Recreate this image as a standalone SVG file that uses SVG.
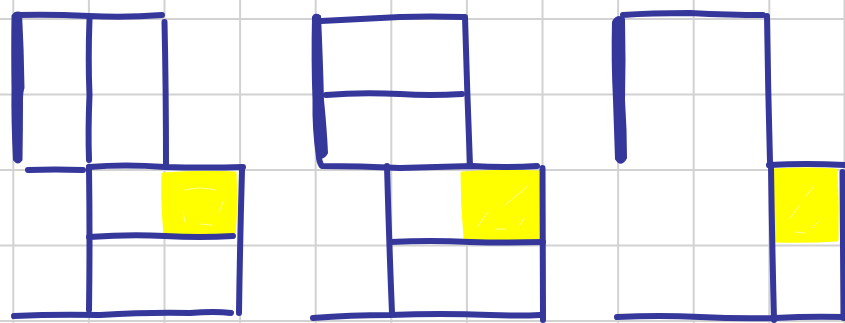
<svg xmlns="http://www.w3.org/2000/svg" width="845" height="323" viewBox="0 0 845 323">
<style>
.g{stroke:#d2d2d2;stroke-width:2;fill:none}
.l{stroke:#35379b;stroke-width:6;stroke-linecap:round;stroke-linejoin:round;fill:none}
.t{fill:#35379b;stroke:#35379b;stroke-width:2;stroke-linejoin:round}
.y{fill:#ffff00;stroke:#ffff00;stroke-width:3;stroke-linejoin:round}
.w{stroke:#ffffff;stroke-width:1;stroke-linecap:round;fill:none;opacity:0.6}
</style>
<rect width="845" height="323" fill="#ffffff"/>
<g id="grid">
<path class="g" d="M13.3 0V323M88.9 0V323M164.5 0V323M240.1 0V323M315.7 0V323M391.3 0V323M466.9 0V323M542.5 0V323M618.1 0V323M693.7 0V323M769.3 0V323M844.5 0V323"/>
<path class="g" d="M0 19H845M0 94.5H845M0 170H845M0 245.5H845M0 321H845"/>
</g>
<g id="panel1">
<path class="y" d="M163 174Q200 171 235 173Q237 205 234 234Q200 236 165 234Q162 205 163 174Z"/>
<path class="w" d="M185 190Q200 186 215 190M183 212L185 222M200 224L212 225M224 200L219 212"/>
<path class="t" d="M12.5 16Q15 11 21 13Q23 50 23.5 88Q22 92 22 100Q22 130 21.5 160Q18 165 14 160Q12 120 12.5 88Q12 50 12.5 16Z"/>
<path class="l" d="M17 15Q50 14 89 16Q125 18 162 15"/>
<path class="l" d="M89.5 19Q88 60 89.5 95Q88 130 89 160"/>
<path class="l" d="M164.5 22Q166 90 166 165"/>
<path class="l" d="M28 170Q55 169 83 170"/>
<path class="l" d="M89 167Q125 164 165 167Q205 168 243 167"/>
<path class="l" d="M89 167Q90 240 89 310"/>
<path class="l" d="M242 170Q240 240 239 313"/>
<path class="l" d="M89 237Q130 234 165 236Q200 238 233 236"/>
<path class="l" d="M14 316Q55 314 100 315Q150 312 190 313Q215 311 231 313"/>
</g>
<g id="panel2">
<path class="y" d="M462 173Q500 170 538 172Q540 205 540 238Q500 240 465 238Q462 205 462 173Z"/>
<path class="w" d="M478 226L488 212M505 205L528 186M495 229L505 229M520 225L524 218"/>
<path class="t" d="M313 17Q315 13 320 16Q322 60 323 100Q326 130 327 153Q323 160 317 157Q313 130 313.5 100Q312 60 313 17Z"/>
<path class="l" d="M321 21Q360 19 400 17Q430 16 463 17"/>
<path class="l" d="M326 95Q360 92 400 94Q430 96 462 94"/>
<path class="l" d="M465 17Q467 90 470 165"/>
<path class="l" d="M319 158Q320 164 322 166Q360 166 400 168Q440 167 472 166Q505 168 537 166"/>
<path class="l" d="M387 166Q389 240 392 313"/>
<path class="l" d="M542.5 168Q543 240 543 320"/>
<path class="l" d="M391 242Q430 240 470 242Q505 243 543 242"/>
<path class="l" d="M313 318Q350 315 390 315Q440 313 490 315Q520 316 540 315"/>
</g>
<g id="panel3">
<path class="y" d="M773 170Q805 168 836 170Q838 205 837 240Q805 242 776 241Q774 205 773 170Z"/>
<path class="w" d="M790 218L800 205M806 196L814 186M812 228L818 222M795 232L805 233"/>
<path class="t" d="M613 22Q617 14 624 19Q625 60 624 100Q626 130 626 158Q621 167 616 159Q615 130 614 100Q612 60 613 22Z"/>
<path class="l" d="M623 15Q650 13 690 13Q730 15 763 15"/>
<path class="l" d="M767 16Q768 90 770 162"/>
<path class="l" d="M769 165Q805 163 845 165"/>
<path class="l" d="M771 166Q772 240 774 320"/>
<path class="l" d="M842.5 172Q843 240 843.5 318"/>
<path class="l" d="M617 317Q660 315 700 317Q740 319 775 318Q810 316 845 317"/>
</g>
</svg>
